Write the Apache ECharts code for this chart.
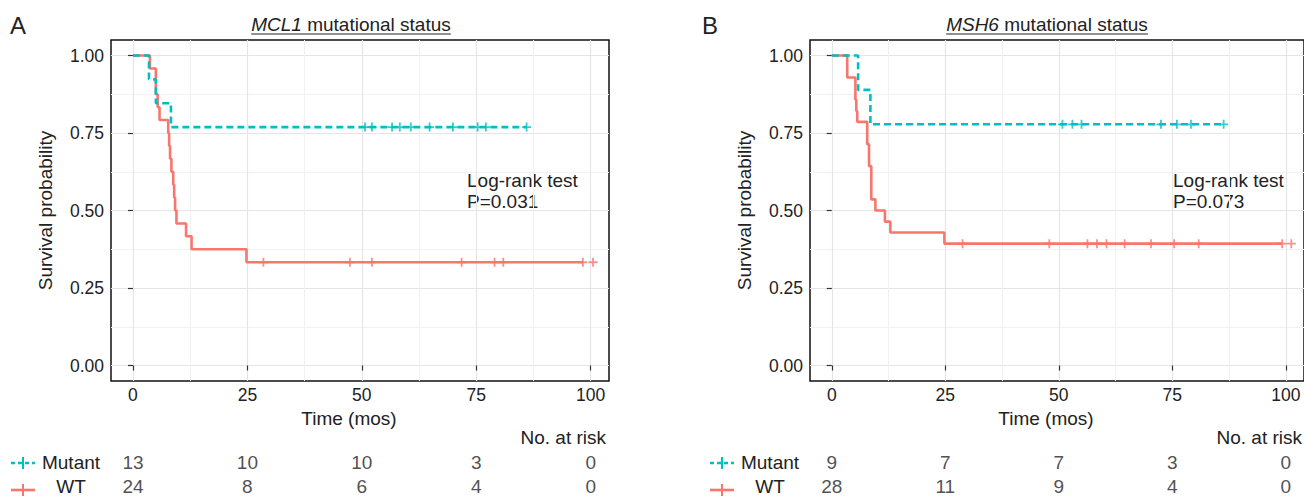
<!DOCTYPE html>
<html><head><meta charset="utf-8">
<script src="https://cdn.jsdelivr.net/npm/echarts@6/dist/echarts.min.js"></script>
<style>html,body{margin:0;padding:0;background:#fff}#c{width:1304px;height:498px}</style>
</head><body><div id="c"></div>
<script>
// ---------- axes / tick labels ----------
const xTicks = [0, 25, 50, 75, 100];
const xMinor = [12.5, 37.5, 62.5, 87.5];
const yTicks = [0, 0.25, 0.5, 0.75, 1];
const yMinor = [0.125, 0.375, 0.625, 0.875];
const riskTimes = [0, 25, 50, 75, 100];
const groups = ['WT', 'Mutant'];

// ---------- Panel A: MCL1 ----------
const mclMutTimes = [0, 3.5, 5.0, 8.3, 86.0];
const mclMutSurv  = [1, 0.923, 0.846, 0.769, 0.769];
const mclMutCensor = [50.7, 52.2, 56.6, 58.3, 60.7, 64.8, 69.9, 75.3, 77.1, 86.0];
const mclWtTimes = [0, 3.7, 5.0, 5.4, 5.8, 7.7, 7.9, 8.1, 8.4, 8.8, 9.0, 9.2, 9.5, 11.6, 12.8, 24.8, 98.3];
const mclWtSurv  = [1, 0.958, 0.875, 0.833, 0.792, 0.750, 0.708, 0.667, 0.625, 0.583, 0.542, 0.500, 0.458, 0.417, 0.375, 0.333, 0.333];
const mclWtCensor = [28.5, 47.4, 52.2, 71.8, 79.0, 80.9, 98.3, 100.5];
const mclRiskMut = [13, 10, 10, 3, 0];
const mclRiskWt  = [24, 8, 6, 4, 0];
const mclP = 'P=0.031';

// ---------- Panel B: MSH6 ----------
const mshMutTimes = [0, 5.8, 8.5, 86.3];
const mshMutSurv  = [1, 0.889, 0.778, 0.778];
const mshMutCensor = [50.8, 53.0, 55.0, 72.5, 76.0, 79.1, 86.3];
const mshWtTimes = [0, 3.4, 5.2, 5.4, 5.6, 7.8, 8.2, 8.7, 9.6, 11.7, 12.9, 24.8, 99.2];
const mshWtSurv  = [1, 0.929, 0.857, 0.821, 0.786, 0.714, 0.643, 0.536, 0.500, 0.464, 0.429, 0.393, 0.393];
const mshWtCensor = [28.8, 47.9, 56.3, 58.4, 60.5, 64.5, 70.3, 75.4, 80.8, 99.2, 101.2];
const mshRiskMut = [9, 7, 7, 3, 0];
const mshRiskWt  = [28, 11, 9, 4, 0];
const mshP = 'P=0.073';

const CYAN = '#00BFC4', RED = '#F8766D', TXT = '#222';
const FONT = '"Liberation Sans", Arial, Helvetica, sans-serif';
const PLUS = 'path://M4,0H6V4H10V6H6V10H4V6H0V4H4Z';

function survAt(times, surv, t) {
  let s = surv[0];
  for (let i = 0; i < times.length; i++) { if (times[i] <= t) s = surv[i]; }
  return s;
}
function pairs(times, surv) { return times.map((t, i) => [t, surv[i]]); }

const X_MIN = -4.8, X_MAX = 104, Y_MIN = -0.05, Y_MAX = 1.05;
const panels = [
  { left: 111, width: 498, mutT: mclMutTimes, mutS: mclMutSurv, mutC: mclMutCensor,
    wtT: mclWtTimes, wtS: mclWtSurv, wtC: mclWtCensor, rMut: mclRiskMut, rWt: mclRiskWt },
  { left: 810, width: 496, mutT: mshMutTimes, mutS: mshMutSurv, mutC: mshMutCensor,
    wtT: mshWtTimes, wtS: mshWtSurv, wtC: mshWtCensor, rMut: mshRiskMut, rWt: mshRiskWt }
];

const grid = [], xAxis = [], yAxis = [], series = [];
panels.forEach((p, k) => {
  const g = grid.length;
  grid.push({ left: p.left, top: 40, width: p.width, height: 341, show: true,
    borderColor: '#111', borderWidth: 1.5, backgroundColor: '#fff' });
  grid.push({ left: p.left, top: 450, width: p.width, height: 54, show: false });
  const xa = xAxis.length, ya = yAxis.length;
  // major axes
  xAxis.push({ gridIndex: g, type: 'value', min: X_MIN, max: X_MAX, position: 'bottom',
    axisLine: { show: false },
    axisTick: { show: true, customValues: xTicks, length: 5, lineStyle: { color: '#333', width: 1.2 } },
    axisLabel: { show: true, customValues: xTicks, margin: 5, fontSize: 17.5, color: TXT, fontFamily: FONT },
    splitLine: { show: true, lineStyle: { color: '#e5e5e5', width: 1.2 } } });
  // minor grid
  xAxis.push({ gridIndex: g, type: 'value', min: X_MIN, max: X_MAX, position: 'top',
    axisLine: { show: false }, axisTick: { show: false, customValues: xMinor },
    axisLabel: { show: false, customValues: xMinor },
    splitLine: { show: true, lineStyle: { color: '#f1f1f1', width: 1 } } });
  yAxis.push({ gridIndex: g, type: 'value', min: Y_MIN, max: Y_MAX, position: 'left',
    name: 'Survival probability', nameLocation: 'middle', nameGap: 56, nameRotate: 90,
    nameTextStyle: { fontSize: 19, color: TXT, fontFamily: FONT },
    axisLine: { show: false },
    axisTick: { show: true, customValues: yTicks, length: 5, lineStyle: { color: '#333', width: 1.2 } },
    axisLabel: { show: true, customValues: yTicks, margin: 7, fontSize: 17.5, color: TXT, fontFamily: FONT,
      formatter: v => v.toFixed(2) },
    splitLine: { show: true, lineStyle: { color: '#e5e5e5', width: 1.2 } } });
  yAxis.push({ gridIndex: g, type: 'value', min: Y_MIN, max: Y_MAX, position: 'right',
    axisLine: { show: false }, axisTick: { show: false, customValues: yMinor },
    axisLabel: { show: false, customValues: yMinor },
    splitLine: { show: true, lineStyle: { color: '#f1f1f1', width: 1 } } });
  // risk table axes
  xAxis.push({ gridIndex: g + 1, type: 'value', min: X_MIN, max: X_MAX, show: false });
  yAxis.push({ gridIndex: g + 1, type: 'category', data: groups,
    axisLine: { show: false }, axisTick: { show: false }, splitLine: { show: false },
    axisLabel: { show: true, interval: 0, hideOverlap: false, align: 'center', margin: 40,
      fontSize: 19, color: TXT, fontFamily: FONT } });

  series.push({ type: 'line', name: 'Mutant', step: 'end', xAxisIndex: xa, yAxisIndex: ya,
    data: pairs(p.mutT, p.mutS), showSymbol: false, z: 4,
    lineStyle: { color: CYAN, width: 2.6, type: [7, 4] } });
  series.push({ type: 'line', name: 'WT', step: 'end', xAxisIndex: xa, yAxisIndex: ya,
    data: pairs(p.wtT, p.wtS), showSymbol: false, z: 3,
    lineStyle: { color: RED, width: 2.6 } });
  series.push({ type: 'scatter', xAxisIndex: xa, yAxisIndex: ya, symbol: PLUS, symbolSize: 9, z: 5,
    itemStyle: { color: CYAN }, data: p.mutC.map(t => [t, survAt(p.mutT, p.mutS, t)]) });
  series.push({ type: 'scatter', xAxisIndex: xa, yAxisIndex: ya, symbol: PLUS, symbolSize: 9, z: 5,
    itemStyle: { color: RED }, data: p.wtC.map(t => [t, survAt(p.wtT, p.wtS, t)]) });
  // risk table numbers
  const riskData = [];
  riskTimes.forEach((t, i) => { riskData.push([t, 'Mutant', p.rMut[i]]); riskData.push([t, 'WT', p.rWt[i]]); });
  series.push({ type: 'scatter', xAxisIndex: xa + 2, yAxisIndex: ya + 2, symbolSize: 1,
    itemStyle: { color: 'rgba(0,0,0,0)' }, data: riskData,
    label: { show: true, position: 'inside', formatter: q => String(q.value[2]),
      fontSize: 19, color: TXT, fontFamily: FONT } });
});

// measure title to place underline
const ctx = document.createElement('canvas').getContext('2d');
function tw(txt, italic) { ctx.font = (italic ? 'italic ' : '') + '19px ' + FONT; return ctx.measureText(txt).width; }

function titleGraphics(gene, cx) {
  const w = tw(gene, true) + tw(' mutational status', false);
  return [
    { type: 'text', x: cx - w / 2, y: 24, style: { text: '{i|' + gene + '} mutational status',
      font: '19px ' + FONT, fill: TXT, verticalAlign: 'middle',
      rich: { i: { fontStyle: 'italic', fontSize: 19, fontFamily: FONT, fill: TXT } } } },
    { type: 'line', shape: { x1: cx - w / 2, y1: 34, x2: cx + w / 2, y2: 34 }, style: { stroke: TXT, lineWidth: 1.2 } }
  ];
}
function legendGlyph(x, y, color, dashed) {
  return [
    { type: 'line', shape: { x1: x, y1: y, x2: x + 24, y2: y },
      style: { stroke: color, lineWidth: 2.6, lineDash: dashed ? [4, 3] : null } },
    { type: 'line', shape: { x1: x + 12, y1: y - 6, x2: x + 12, y2: y + 6 }, style: { stroke: color, lineWidth: 2 } }
  ];
}
const txt = (t, x, y, size, align, extra) => Object.assign({ type: 'text', x, y,
  style: { text: t, font: size + 'px ' + FONT, fill: TXT, align: align, verticalAlign: 'middle' } }, extra || {});

const graphic = [
  txt('A', 10, 25, 24, 'left'),
  txt('B', 702, 25, 24, 'left'),
  ...titleGraphics('MCL1', 351),
  ...titleGraphics('MSH6', 1047),
  txt('Time (mos)', 349, 418, 19, 'center'),
  txt('Time (mos)', 1046, 418, 19, 'center'),
  { type: 'text', x: 467, y: 170, style: { text: 'Log-rank test\n' + mclP, font: '19px ' + FONT, fill: TXT, lineHeight: 21 } },
  { type: 'text', x: 1173, y: 170, style: { text: 'Log-rank test\n' + mshP, font: '19px ' + FONT, fill: TXT, lineHeight: 21 } },
  txt('No. at risk', 606, 437, 19, 'right'),
  txt('No. at risk', 1302, 437, 19, 'right'),
  ...legendGlyph(11, 463, CYAN, true), ...legendGlyph(11, 490, RED, false),
  ...legendGlyph(710, 463, CYAN, true), ...legendGlyph(710, 490, RED, false)
];

const chart = echarts.init(document.getElementById('c'), null, { renderer: 'svg' });
chart.setOption({ animation: false, backgroundColor: '#fff', textStyle: { fontFamily: FONT },
  grid, xAxis, yAxis, series, graphic });
</script></body></html>
